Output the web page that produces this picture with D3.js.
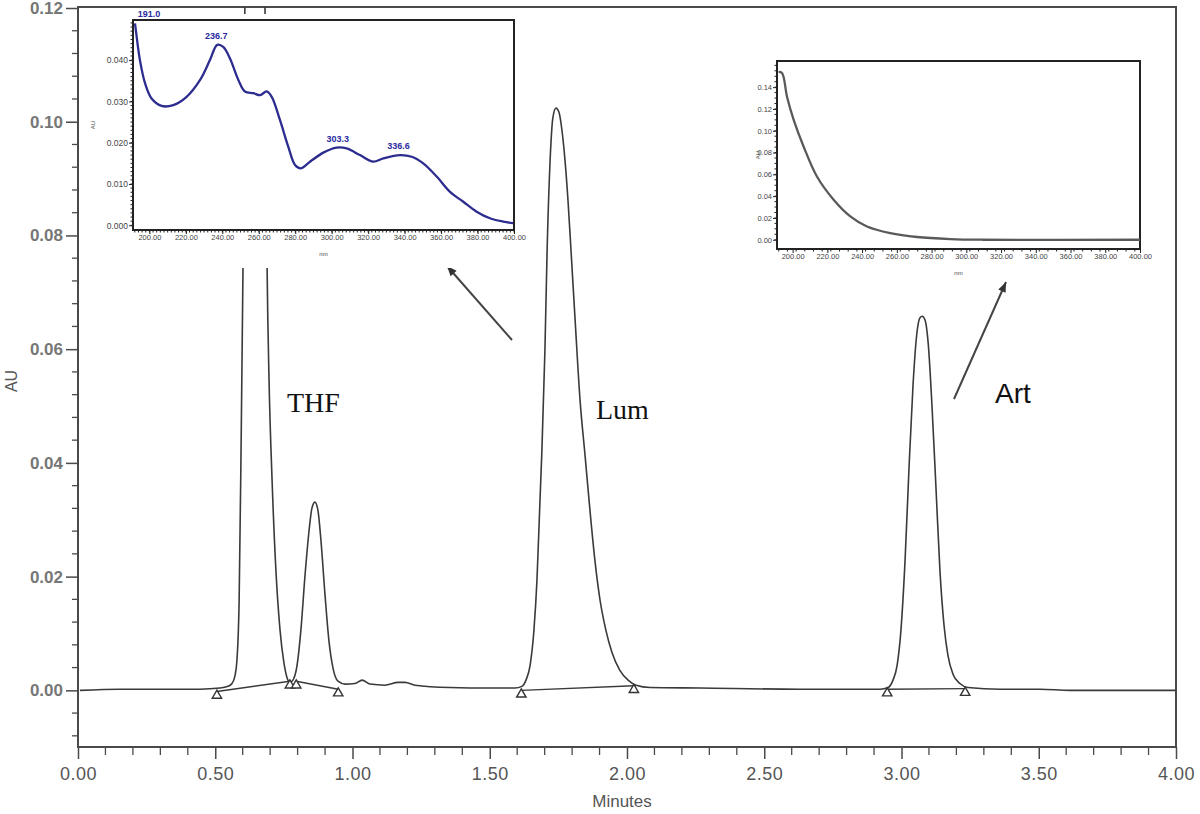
<!DOCTYPE html>
<html><head><meta charset="utf-8">
<script src="https://cdn.jsdelivr.net/npm/d3@7"></script>
<style>body{margin:0;background:#fff}svg{display:block}</style>
</head><body>
<svg id="c" width="1200" height="814"></svg>
<script>
// ---------------- DATA ----------------
// Main chromatogram trace (minutes, AU)
const traceTime = [0.007,0.153,0.299,0.444,0.517,0.546,0.561,0.572,0.579,0.587,0.594,0.601,0.605,0.608,0.64,0.681,0.685,0.689,0.696,0.707,0.721,0.736,0.750,0.761,0.772,0.783,0.798,0.812,0.827,0.842,0.852,0.863,0.874,0.885,0.900,0.914,0.929,0.947,0.973,1.009,1.035,1.064,1.118,1.166,1.191,1.228,1.355,1.501,1.592,1.617,1.632,1.647,1.661,1.672,1.683,1.690,1.701,1.709,1.720,1.730,1.741,1.752,1.763,1.774,1.785,1.796,1.811,1.829,1.847,1.865,1.883,1.902,1.923,1.945,1.974,2.004,2.033,2.084,2.266,2.630,2.922,2.951,2.969,2.984,2.998,3.013,3.027,3.042,3.056,3.067,3.075,3.086,3.097,3.111,3.126,3.140,3.155,3.169,3.188,3.213,3.242,3.359,3.505,3.614,4.000];
const traceAU = [0.0000,0.0002,0.0002,0.0002,0.0004,0.0007,0.0012,0.0026,0.0053,0.0158,0.0422,0.0739,0.0950,0.1214,0.165,0.1214,0.0950,0.0739,0.0545,0.0370,0.0211,0.0106,0.0049,0.0023,0.0014,0.0018,0.0044,0.0106,0.0202,0.0282,0.0320,0.0331,0.0317,0.0264,0.0167,0.0088,0.0039,0.0016,0.0011,0.0012,0.0018,0.0011,0.0009,0.0014,0.0014,0.0009,0.0005,0.0004,0.0004,0.0007,0.0018,0.0044,0.0106,0.0194,0.0334,0.0422,0.0598,0.0774,0.0933,0.1007,0.1024,0.1017,0.0985,0.0933,0.0862,0.0774,0.0651,0.0510,0.0414,0.0317,0.0229,0.0158,0.0106,0.0067,0.0035,0.0018,0.0009,0.0005,0.0004,0.0002,0.0002,0.0005,0.0018,0.0044,0.0106,0.0229,0.0387,0.0537,0.0628,0.0655,0.0658,0.0651,0.0612,0.0501,0.0352,0.0211,0.0114,0.0062,0.0028,0.0012,0.0005,0.0002,0.0002,0.0000,0.0000];
// Integration baselines: [startTime, startAU, endTime, endAU]
const baselineStartTime = [0.506, 0.795, 1.615, 2.948];
const baselineStartAU   = [-0.0002, 0.0016, 0.0000, 0.0002];
const baselineEndTime   = [0.772, 0.948, 2.025, 3.232];
const baselineEndAU     = [0.0016, 0.0002, 0.0008, 0.0003];
const peakNames = ["THF","Lum","Art"];

const xTickValues = [0,0.5,1,1.5,2,2.5,3,3.5,4];
const yTickValues = [0,0.02,0.04,0.06,0.08,0.10,0.12];

// Inset 1: UV spectrum of Lum (nm, AU)
const lumNm = [192.1,193.0,194.8,197.6,201.2,206.7,213.1,220.4,227.8,233.2,237.2,240.5,244.2,248.8,252.4,257.0,260.7,264.3,267.1,271.6,276.2,279.9,283.0,288.1,295.4,302.7,308.2,315.5,322.8,328.3,337.5,343.9,350.2,357.6,364.9,372.2,379.5,386.8,394.1,399.6];
const lumAU = [0.0489,0.0457,0.0400,0.0344,0.0307,0.0289,0.0291,0.0311,0.0352,0.0400,0.0437,0.0432,0.0404,0.0352,0.0324,0.0320,0.0315,0.0324,0.0311,0.0255,0.0190,0.0146,0.0138,0.0154,0.0176,0.0188,0.0186,0.0170,0.0154,0.0162,0.0170,0.0166,0.0150,0.0118,0.0081,0.0057,0.0033,0.0017,0.0009,0.0005];
const lumPeakLabels = ["191.0","236.7","303.3","336.6"];
const lumPeakNm = [191.0,236.7,303.3,336.6];
const lumPeakAU = [0.0489,0.0437,0.0188,0.0170];
const lumYTicks = [0,0.01,0.02,0.03,0.04];
// Inset 2: UV spectrum of Art (nm, AU)
const artNm = [191.9,193.9,196.8,200.6,206.3,214.0,223.6,233.2,242.8,256.2,271.6,290.8,309.7,400.0];
const artAU = [0.154,0.153,0.131,0.110,0.0856,0.058,0.0367,0.0214,0.0122,0.0061,0.0025,0.0006,0.0000,0.0000];
const artYTicks = [0,0.02,0.04,0.06,0.08,0.10,0.12,0.14];
const nmTicks = [200,220,240,260,280,300,320,340,360,380,400];

// ---------------- DRAW ----------------
const svg = d3.select("#c");
const W = 1200, H = 814;
const L = 78, R = 1176, T = 7, B = 747;
const x = d3.scaleLinear().domain([0,4]).range([L,R]);
const y = d3.scaleLinear().domain([-0.01,0.12]).range([B+0.2,8]);
const axisCol = "#4a4a4a", labCol = "#555";

svg.append("defs").append("clipPath").attr("id","pc")
  .append("rect").attr("x",L).attr("y",T).attr("width",R-L).attr("height",B-T);

// minor ticks main
const gMinor = svg.append("g").attr("stroke",axisCol).attr("stroke-width",1.3);
d3.range(-8,121,4).map(v=>v/1000).forEach(v=>{
  if (yTickValues.some(t=>Math.abs(t-v)<1e-6)) return;
  gMinor.append("line").attr("x1",L-6).attr("x2",L).attr("y1",y(v)).attr("y2",y(v));
});
d3.range(0,41).map(v=>v/10).forEach(v=>{
  if (v*2 % 1 === 0) return;
  gMinor.append("line").attr("x1",x(v)).attr("x2",x(v)).attr("y1",B).attr("y2",B+8);
});

// main axes
const yAxis = d3.axisLeft(y).tickValues(yTickValues).tickFormat(d3.format(".2f")).tickSize(12).tickPadding(3);
const gy = svg.append("g").attr("transform",`translate(${L},0)`).call(yAxis);
gy.select(".domain").remove();
gy.selectAll("line").attr("stroke",axisCol).attr("stroke-width",1.5);
gy.selectAll("text").attr("fill",labCol).attr("font-family","Liberation Sans, Arial, sans-serif")
  .attr("font-size",17).attr("font-weight","bold").attr("opacity",0.8);

const xAxis = d3.axisBottom(x).tickValues(xTickValues).tickFormat(d3.format(".2f")).tickSize(12).tickPadding(8);
const gx = svg.append("g").attr("transform",`translate(0,${B})`).call(xAxis);
gx.select(".domain").remove();
gx.selectAll("line").attr("stroke",axisCol).attr("stroke-width",1.5);
gx.selectAll("text").attr("fill",labCol).attr("font-family","Liberation Sans Narrow, Arial Narrow, sans-serif")
  .attr("font-size",18).attr("letter-spacing",0.5);

// frame
svg.append("rect").attr("x",L).attr("y",T).attr("width",R-L).attr("height",B-T)
  .attr("fill","none").attr("stroke",axisCol).attr("stroke-width",2);

svg.append("text").attr("x",622).attr("y",807).attr("text-anchor","middle")
  .attr("font-family","Liberation Sans Narrow, Arial Narrow, sans-serif").attr("font-size",17)
  .attr("fill",labCol).text("Minutes");
svg.append("text").attr("transform","translate(17,381) rotate(-90)").attr("text-anchor","middle")
  .attr("font-family","Liberation Sans, Arial, sans-serif").attr("font-size",16)
  .attr("fill",labCol).text("AU");

// trace
const trace = traceTime.map((t,i)=>[t,traceAU[i]]);
const line = d3.line().x(d=>x(d[0])).y(d=>y(d[1])).curve(d3.curveMonotoneX);
const gTrace = svg.append("g").attr("clip-path","url(#pc)");
gTrace.append("path").datum(trace).attr("d",line).attr("fill","none")
  .attr("stroke","#3a3a3a").attr("stroke-width",1.6);
// baselines + triangles
const tri = d3.symbol().type(d3.symbolTriangle).size(38);
baselineStartTime.forEach((t0,i)=>{
  const p0=[t0,baselineStartAU[i]], p1=[baselineEndTime[i],baselineEndAU[i]];
  gTrace.append("line").attr("x1",x(p0[0])).attr("y1",y(p0[1])).attr("x2",x(p1[0])).attr("y2",y(p1[1]))
    .attr("stroke","#3a3a3a").attr("stroke-width",1.4);
  [p0,p1].forEach(p=>{
    gTrace.append("path").attr("d",tri).attr("transform",`translate(${x(p[0])},${y(p[1])+4})`)
      .attr("fill","#fff").attr("stroke","#333").attr("stroke-width",1.4);
  });
});

// labels
svg.append("text").attr("x",287).attr("y",412).attr("font-family","Liberation Serif, Times New Roman, serif")
  .attr("font-size",28).attr("fill","#111").text(peakNames[0]);
svg.append("text").attr("x",596).attr("y",419).attr("font-family","Liberation Serif, Times New Roman, serif")
  .attr("font-size",28).attr("fill","#111").text(peakNames[1]);
svg.append("text").attr("x",995).attr("y",403).attr("font-family","Liberation Sans, Arial, sans-serif")
  .attr("font-size",28).attr("fill","#111").text(peakNames[2]);

// arrows
function arrow(x1,y1,x2,y2){
  svg.append("line").attr("x1",x1).attr("y1",y1).attr("x2",x2).attr("y2",y2)
    .attr("stroke","#444").attr("stroke-width",2);
  const a=Math.atan2(y2-y1,x2-x1), len=10, w=4;
  const bx=x2-len*Math.cos(a), by=y2-len*Math.sin(a);
  const pts=[[x2,y2],[bx+w*Math.sin(a),by-w*Math.cos(a)],[bx-w*Math.sin(a),by+w*Math.cos(a)]];
  svg.append("polygon").attr("points",pts.map(p=>p.join(",")).join(" ")).attr("fill","#333");
}
arrow(512,340,447,266);
arrow(954,399,1006,282);

// ---------- insets ----------
function inset(opts){
  const g = svg.append("g");
  g.append("rect").attr("x",opts.bg[0]).attr("y",opts.bg[1]).attr("width",opts.bg[2]).attr("height",opts.bg[3]).attr("fill","#fff");
  const ix = d3.scaleLinear().domain([191,400]).range([opts.l,opts.r]);
  const iy = d3.scaleLinear().domain(opts.yDom).range([opts.b,opts.t]);
  // minor ticks
  const gm = g.append("g").attr("stroke","#222").attr("stroke-width",1);
  d3.range(opts.yMinor[0],opts.yMinor[1]+1e-9,opts.yMinor[2]).forEach(v=>{
    gm.append("line").attr("x1",opts.l-2.5).attr("x2",opts.l).attr("y1",iy(v)).attr("y2",iy(v));
  });
  d3.range(192,401,opts.xMinorStep).forEach(v=>{
    gm.append("line").attr("x1",ix(v)).attr("x2",ix(v)).attr("y1",opts.b).attr("y2",opts.b+2.5);
  });
  const ay = g.append("g").attr("transform",`translate(${opts.l},0)`)
    .call(d3.axisLeft(iy).tickValues(opts.yTicks).tickFormat(d3.format(opts.yFmt)).tickSize(4).tickPadding(1));
  ay.select(".domain").remove();
  ay.selectAll("line").attr("stroke","#222");
  ay.selectAll("text").attr("font-size",opts.yFont).attr("fill","#444").attr("font-family","Liberation Sans, Arial, sans-serif");
  const ax = g.append("g").attr("transform",`translate(0,${opts.b})`)
    .call(d3.axisBottom(ix).tickValues(nmTicks).tickFormat(d3.format(".2f")).tickSize(4).tickPadding(1));
  ax.select(".domain").remove();
  ax.selectAll("line").attr("stroke","#222");
  ax.selectAll("text").attr("font-size",7.5).attr("fill","#444").attr("font-family","Liberation Sans, Arial, sans-serif");
  g.append("rect").attr("x",opts.l).attr("y",opts.t).attr("width",opts.r-opts.l).attr("height",opts.b-opts.t)
    .attr("fill","none").attr("stroke","#222").attr("stroke-width",2);
  const data = opts.nm.map((n,i)=>[n,opts.au[i]]);
  g.append("path").datum(data).attr("d",d3.line().x(d=>ix(d[0])).y(d=>iy(d[1])).curve(d3.curveCatmullRom))
    .attr("fill","none").attr("stroke",opts.col).attr("stroke-width",2.3);
  g.append("text").attr("x",(opts.l+opts.r)/2).attr("y",opts.b+26).attr("text-anchor","middle")
    .attr("font-size",6).attr("fill","#444").attr("font-family","Liberation Sans, Arial, sans-serif").text("nm");
  g.append("text").attr("transform",`translate(${opts.l-opts.auDx},${(opts.t+opts.b)/2}) rotate(-90)`).attr("text-anchor","middle")
    .attr("font-size",6).attr("fill","#444").attr("font-family","Liberation Sans, Arial, sans-serif").text("AU");
  return {g,ix,iy};
}

const in1 = inset({bg:[86,14,440,254], l:133, r:514, t:20, b:230, yDom:[-0.00114,0.04971],
  yMinor:[0,0.049,0.001], xMinorStep:2, yTicks:lumYTicks, yFmt:".3f", yFont:8.5,
  nm:lumNm, au:lumAU, col:"#2d2d8f", auDx:38});
lumPeakLabels.forEach((s,i)=>{
  in1.g.append("text").attr("x",in1.ix(lumPeakNm[i])+ (i===0?16:0)).attr("y",in1.iy(lumPeakAU[i])-6)
    .attr("text-anchor","middle").attr("font-size",9).attr("font-weight","bold")
    .attr("fill","#2a2aa0").attr("font-family","Liberation Sans, Arial, sans-serif").text(s);
});

inset({bg:[745,50,410,230], l:777, r:1140, t:61, b:249, yDom:[-0.0085,0.164],
  yMinor:[0,0.16,0.005], xMinorStep:5, yTicks:artYTicks, yFmt:".2f", yFont:7.5,
  nm:artNm, au:artAU, col:"#5a5a5a", auDx:17});
</script>
</body></html>
